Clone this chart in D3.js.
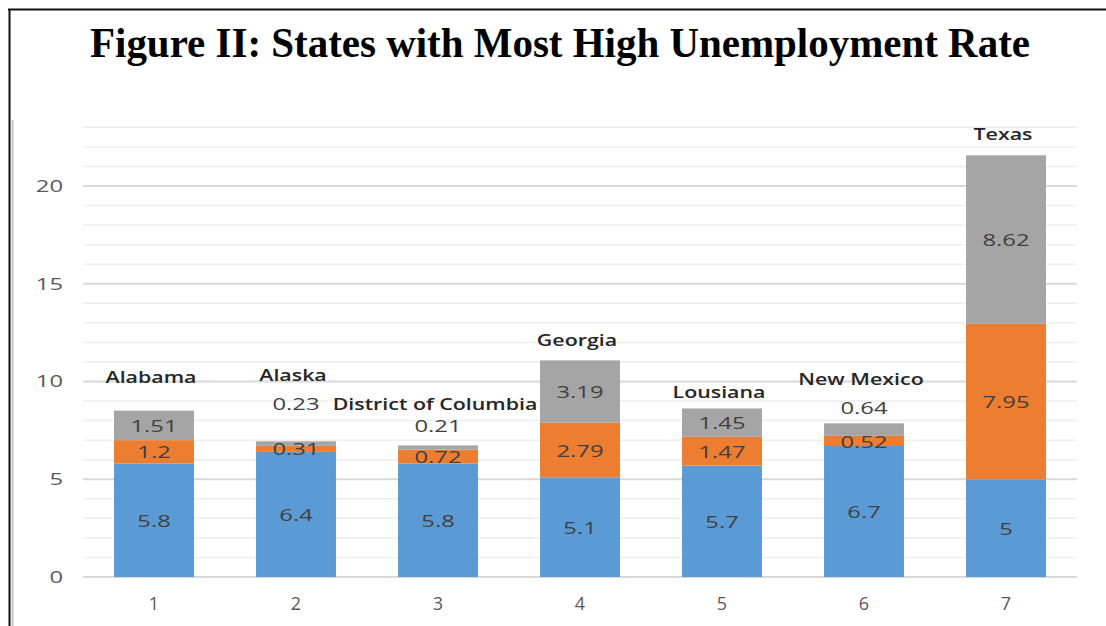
<!DOCTYPE html>
<html>
<head>
<meta charset="utf-8">
<script src="https://cdn.jsdelivr.net/npm/d3@7"></script>
<style>
  html, body { margin: 0; padding: 0; background: #fff; }
  svg { display: block; }
</style>
</head>
<body>
<svg id="chart" width="1106" height="626"></svg>
<script>
// Unemployment components per state (stacked)
const categories = ["1", "2", "3", "4", "5", "6", "7"];
const states = ["Alabama", "Alaska", "District of Columbia", "Georgia", "Lousiana", "New Mexico", "Texas"];
const seriesBlue = [5.8, 6.4, 5.8, 5.1, 5.7, 6.7, 5];
const seriesOrange = [1.2, 0.31, 0.72, 2.79, 1.47, 0.52, 7.95];
const seriesGrey = [1.51, 0.23, 0.21, 3.19, 1.45, 0.64, 8.62];
const yTicks = [0, 5, 10, 15, 20];

// Label placement tweaks (pixels above default spot)
const greyLabelLift = [0, 40, 22, 0, 0, 22, 0];
const stateLabelLift = [34, 67, 42, 21, 17, 45, 22];

const colors = ["#5B9BD5", "#ED7D31", "#A5A5A5"];
const svg = d3.select("#chart");
const W = 1106, H = 626;

// Frame lines
svg.append("line").attr("x1", 8).attr("x2", W).attr("y1", 9.5).attr("y2", 9.5)
  .attr("stroke", "#111").attr("stroke-width", 2);
svg.append("line").attr("x1", 9.5).attr("x2", 9.5).attr("y1", 9).attr("y2", H)
  .attr("stroke", "#111").attr("stroke-width", 2);
svg.append("line").attr("x1", 12.5).attr("x2", 12.5).attr("y1", 120).attr("y2", H)
  .attr("stroke", "#c8c8c8").attr("stroke-width", 2);

// Title
svg.append("text")
  .attr("x", 90).attr("y", 57)
  .attr("textLength", 940).attr("lengthAdjust", "spacingAndGlyphs")
  .attr("font-family", "'Liberation Serif', 'Times New Roman', serif")
  .attr("font-weight", "bold").attr("font-size", 42).attr("fill", "#000")
  .text("Figure II: States with Most High Unemployment Rate");

const x = d3.scaleBand().domain(categories).range([83, 1077]).paddingInner(0.437).paddingOuter(0.2185);
const y = d3.scaleLinear().domain([0, 23]).range([577, 127.35]);

// Gridlines: minor every 1, major every 5
const grid = svg.append("g");
grid.selectAll("line.minor").data(d3.range(1, 24).filter(v => v % 5 !== 0)).join("line")
  .attr("class", "minor")
  .attr("x1", 83).attr("x2", 1077)
  .attr("y1", d => y(d)).attr("y2", d => y(d))
  .attr("stroke", "#eeeeee").attr("stroke-width", 1.5);
grid.selectAll("line.major").data(yTicks).join("line")
  .attr("class", "major")
  .attr("x1", 83).attr("x2", 1077)
  .attr("y1", d => y(d)).attr("y2", d => y(d))
  .attr("stroke", "#d9d9d9").attr("stroke-width", 2);

// Y axis labels (right edge at x = 63)
const yAxis = svg.append("g").attr("transform", "translate(63,0)")
  .call(d3.axisLeft(y).tickValues(yTicks).tickSize(0).tickPadding(0));
yAxis.select(".domain").remove();
yAxis.selectAll("text")
  .attr("font-family", "'Open Sans', sans-serif").attr("font-size", 17).attr("fill", "#595959")
  .attr("transform", "scale(1.4,1)");

// X axis labels
const xAxis = svg.append("g").attr("transform", "translate(0,597)")
  .call(d3.axisBottom(x).tickSize(0).tickPadding(0));
xAxis.select(".domain").remove();
xAxis.selectAll("text")
  .attr("font-family", "'Open Sans', sans-serif").attr("font-size", 18).attr("fill", "#595959");

// Stack data
const rows = categories.map((c, i) => ({ cat: c, blue: seriesBlue[i], orange: seriesOrange[i], grey: seriesGrey[i] }));
const stack = d3.stack().keys(["blue", "orange", "grey"])(rows);

const barLayer = svg.append("g");
stack.forEach((layer, li) => {
  barLayer.append("g").selectAll("rect").data(layer).join("rect")
    .attr("x", d => x(d.data.cat))
    .attr("width", x.bandwidth())
    .attr("y", d => y(d[1]))
    .attr("height", d => y(d[0]) - y(d[1]))
    .attr("fill", colors[li]);
});

// Value labels
const labelLayer = svg.append("g");
function scaledText(g, cx, cy, str, opts) {
  g.append("text")
    .attr("transform", "translate(" + cx + "," + cy + ") scale(" + opts.sx + ",1)")
    .attr("text-anchor", "middle").attr("dominant-baseline", "central")
    .attr("font-family", "'Open Sans', sans-serif")
    .attr("font-size", opts.size).attr("font-weight", opts.weight || 400)
    .attr("fill", opts.fill)
    .text(str);
}
stack.forEach((layer, li) => {
  layer.forEach((d, i) => {
    const cx = x(d.data.cat) + x.bandwidth() / 2;
    let cy = (y(d[0]) + y(d[1])) / 2;
    if (li === 2) cy -= greyLabelLift[i];
    scaledText(labelLayer, cx, cy, String(d.data[layer.key]), { sx: 1.4, size: 17, fill: "#404040" });
  });
});

// State name labels above each stack
const topLayer = stack[2];
topLayer.forEach((d, i) => {
  const cx = x(d.data.cat) + x.bandwidth() / 2 - 3;
  const cy = y(d[1]) - stateLabelLift[i];
  scaledText(labelLayer, cx, cy, states[i], { sx: 1.38, size: 15.5, weight: 600, fill: "#262626" });
});
</script>
</body>
</html>
